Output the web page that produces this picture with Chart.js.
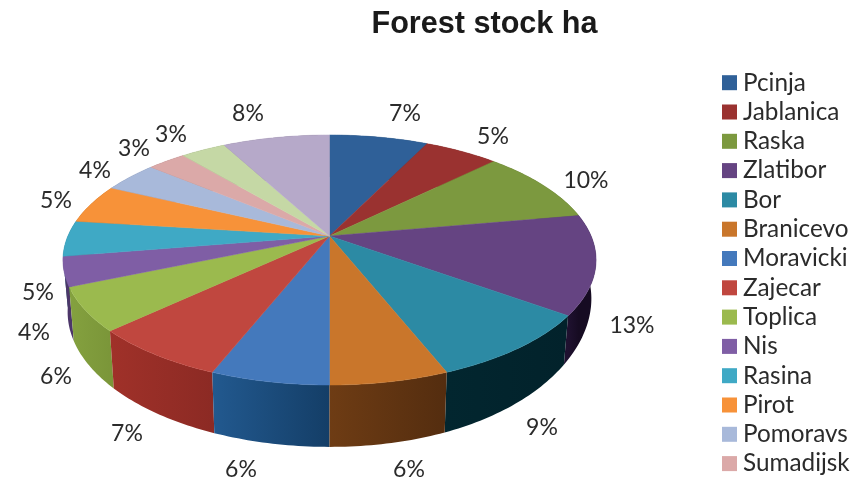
<!DOCTYPE html>
<html>
<head>
<meta charset="utf-8">
<title>Forest stock ha</title>
<script src="https://cdn.jsdelivr.net/npm/chart.js@4/dist/chart.umd.min.js"></script>
<style>
  html, body { margin: 0; padding: 0; background: #fff; }
  #wrap { width: 853px; height: 481px; }
</style>
</head>
<body>
<div id="wrap"><canvas id="chart" width="853" height="481"></canvas></div>
<script>
// The last two slices have no readable name, the legend is cut off in the source
const districts = ['Pcinja', 'Jablanica', 'Raska', 'Zlatibor', 'Bor', 'Branicevo', 'Moravicki', 'Zajecar',
    'Toplica', 'Nis', 'Rasina', 'Pirot', 'Pomoravs', 'Sumadijsk', '', ''];
const shares = [7.2, 5.4, 9.6, 12.8, 9, 6, 6, 7, 5.6, 3.8, 4.6, 5.1, 4, 2.8, 3.3, 7.8];

const topColors = ['#2f6098', '#9a3230', '#7c993f', '#654482', '#2c8aa4', '#c9762b', '#4479bc', '#c0473f',
    '#9bba4e', '#7f5ea5', '#3fa9c5', '#f79239', '#a8b9da', '#dba9a8', '#c5d8a5', '#b6a9c9'];
// Side wall, left and right end of the gradient
const wallLeft = ['#1c3a5c', '#5c1e1d', '#4a5c26', '#1f1130', '#02262f', '#6e3c14', '#22598f', '#a03129',
    '#84a13f', '#4c3669', '#266577', '#945822', '#656f83', '#836565', '#768163', '#6d6579'];
const wallRight = ['#1c3a5c', '#5c1e1d', '#4a5c26', '#160b22', '#02222b', '#542d0f', '#143e67', '#8c2a24',
    '#7b9639', '#4c3669', '#266577', '#945822', '#656f83', '#836565', '#768163', '#6d6579'];

// Data labels were placed by hand in the source, centre of each text
const labelX = [405, 493, 586, 632, 542, 409, 241, 127, 56, 34, 38, 56, 95, 134, 171, 248];
const labelY = [114, 137, 181, 326, 428, 470, 470, 434, 377, 333, 293, 201, 171, 149, 135, 114];

// Perspective of the disc, in pixels
const CX = 329.5;
const TILT = -0.192;
const topFace = { y: 236, a: 120.4, d: 261.6, lift: 0 };
const bottomFace = { y: 286, a: 130, d: 257, lift: 14 }; // wall is a bit shorter on the right side

const FONT = 'Lato, "Noto Sans", sans-serif';

function project(angle, face) {
    let ux = Math.cos(angle), uy = Math.sin(angle);
    let w = 1 + TILT * uy;
    let lift = ux > 0 ? face.lift * ux * ux * ux : 0;
    return { x: CX + face.d * ux / w, y: face.y + face.a * uy / w - lift };
}

function traceArc(ctx, start, end, face) {
    let steps = Math.max(4, Math.ceil(Math.abs(end - start) * 60));
    for (let i = 0; i <= steps; i++) {
        let p = project(start + (end - start) * i / steps, face);
        ctx.lineTo(p.x, p.y);
    }
}

// Draws the pie from the arc elements of chart.js as a tilted disc
const pie3d = {
    id: 'pie3d',
    beforeDatasetDraw(chart) {
        let ctx = chart.ctx;
        let arcs = chart.getDatasetMeta(0).data;
        let order = arcs.map((a, i) => i).sort((i, j) =>
            Math.sin((arcs[i].startAngle + arcs[i].endAngle) / 2) - Math.sin((arcs[j].startAngle + arcs[j].endAngle) / 2));

        // Walls from back to front
        for (let i of order) {
            let arc = arcs[i];
            let a = project(arc.startAngle, topFace), b = project(arc.endAngle, topFace);
            let grad = ctx.createLinearGradient(Math.min(a.x, b.x), 0, Math.max(a.x, b.x), 0);
            grad.addColorStop(0, wallLeft[i]);
            grad.addColorStop(1, wallRight[i]);
            ctx.beginPath();
            traceArc(ctx, arc.startAngle, arc.endAngle, topFace);
            traceArc(ctx, arc.endAngle, arc.startAngle, bottomFace);
            ctx.closePath();
            ctx.fillStyle = grad;
            ctx.fill();
        }

        // Top face
        arcs.forEach((arc, i) => {
            ctx.beginPath();
            ctx.moveTo(CX, topFace.y);
            traceArc(ctx, arc.startAngle, arc.endAngle, topFace);
            ctx.closePath();
            ctx.fillStyle = topColors[i];
            ctx.strokeStyle = topColors[i];
            ctx.lineWidth = 0.5;
            ctx.fill();
            ctx.stroke();
        });
        return false;
    },
    afterDraw(chart) {
        let ctx = chart.ctx;
        ctx.save();
        ctx.fillStyle = '#2b2b2b';
        ctx.textBaseline = 'middle';

        // Data labels
        ctx.font = '23px ' + FONT;
        ctx.textAlign = 'center';
        shares.forEach((v, i) => ctx.fillText(Math.round(v) + '%', labelX[i], labelY[i]));

        // Legend
        ctx.font = '24.3px ' + FONT;
        ctx.textAlign = 'left';
        districts.forEach((name, i) => {
            if (!name) return;
            let y = 82.7 + i * 29.3;
            ctx.fillStyle = topColors[i];
            ctx.fillRect(722, y - 7.5, 15, 15);
            ctx.fillStyle = '#2b2b2b';
            ctx.fillText(name, 743, y);
        });
        ctx.restore();
    }
};

new Chart(document.getElementById('chart'), {
    type: 'pie',
    data: {
        labels: districts,
        datasets: [{ data: shares, backgroundColor: topColors, borderWidth: 0, hoverOffset: 0 }]
    },
    options: {
        responsive: false,
        animation: false,
        layout: { padding: { left: 116 } },
        plugins: {
            legend: { display: false },
            tooltip: { enabled: false },
            title: {
                display: true,
                text: 'Forest stock ha',
                color: '#1a1a1a',
                font: { family: '"Liberation Sans", Arial, sans-serif', size: 30.6, weight: 'bold' },
                padding: { top: 6, bottom: 4 }
            }
        }
    },
    plugins: [pie3d]
});
</script>
</body>
</html>
